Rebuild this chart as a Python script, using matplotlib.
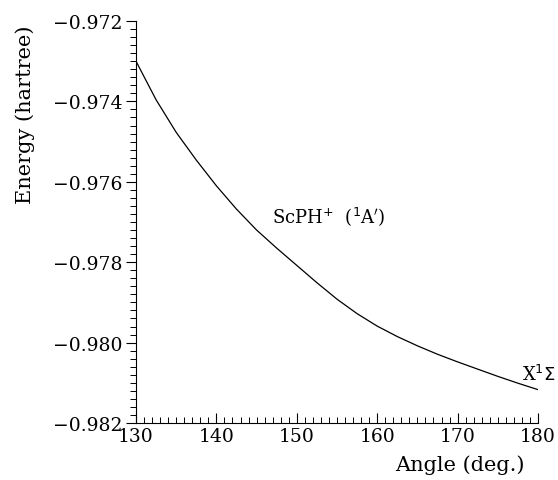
import matplotlib
matplotlib.use("Agg")
import matplotlib.pyplot as plt
from matplotlib.ticker import MultipleLocator, FuncFormatter

# Bending curve of ScPH+ (1A')
angle = [130, 132.5, 135, 137.5, 140, 142.5, 145, 147.5, 150, 152.5, 155,
         157.5, 160, 162.5, 165, 167.5, 170, 172.5, 175, 177.5, 180]
energy = [-0.97300, -0.97396, -0.97477, -0.97546, -0.97610, -0.97668, -0.97720,
          -0.97765, -0.97808, -0.97851, -0.97892, -0.97928, -0.97959, -0.97985,
          -0.98008, -0.98029, -0.98048, -0.98066, -0.98084, -0.98101, -0.98117]

x_ticks = [130, 140, 150, 160, 170, 180]
y_ticks = [-0.982, -0.980, -0.978, -0.976, -0.974, -0.972]

plt.rcParams['font.family'] = ['DejaVu Serif']

fig = plt.figure(figsize=(5.58, 4.81), dpi=100)
ax = fig.add_axes([0.2437, 0.1185, 0.7205, 0.8358])

ax.plot(angle, energy, color="black", linewidth=0.9)

ax.set_xlim(130, 180)
ax.set_ylim(-0.982, -0.972)
ax.set_xticks(x_ticks)
ax.set_yticks(y_ticks)
ax.xaxis.set_minor_locator(MultipleLocator(1))
ax.yaxis.set_minor_locator(MultipleLocator(0.0002))
ax.yaxis.set_major_formatter(FuncFormatter(lambda v, p: ("%.3f" % v).replace("-", "\u2212")))

ax.spines["top"].set_visible(False)
ax.spines["right"].set_visible(False)
ax.spines["left"].set_linewidth(0.8)
ax.spines["bottom"].set_linewidth(0.8)

ax.tick_params(axis="x", which="major", direction="in", length=7, width=0.8,
               labelsize=13.5, pad=3)
ax.tick_params(axis="x", which="minor", direction="in", length=4, width=0.7)
ax.tick_params(axis="y", which="major", direction="out", length=7, width=0.8,
               labelsize=13.5, pad=3)
ax.tick_params(axis="y", which="minor", direction="out", length=4, width=0.7)

fig.text(0.824, 0.033, "Angle (deg.)", ha="center", va="center", fontsize=15)
fig.text(0.045, 0.761, "Energy (hartree)", ha="center", va="center",
         rotation=90, fontsize=15)

ax.text(146.9, -0.97685, r"ScPH$^{+}$  ($^{1}$A$'$)", fontsize=13,
        ha="left", va="center")
fig.text(0.996, 0.22, r"X$^{1}\Sigma$", fontsize=13, ha="right", va="center")

fig.savefig("out.png", dpi=100)
